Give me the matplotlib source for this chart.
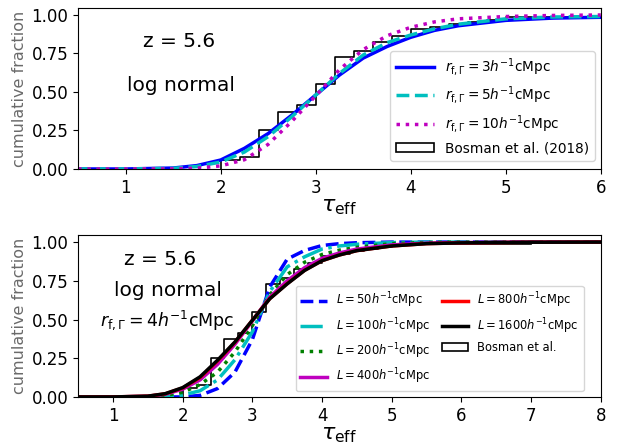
import matplotlib

matplotlib.use("Agg")
import matplotlib.pyplot as plt

# --- Bosman et al. (2018) cumulative histogram (bin edges / cumulative level per bin)
bosman_edges = [2.0, 2.2, 2.4, 2.6, 2.8, 3.0, 3.2, 3.4, 3.6, 3.8, 4.0, 4.2, 4.4,
                4.6, 4.8, 5.0, 5.5, 6.0, 6.5, 7.0]
bosman_cdf = [0.058, 0.076, 0.253, 0.372, 0.416, 0.55, 0.729, 0.768, 0.827,
              0.864, 0.907, 0.925, 0.944, 0.955, 0.966, 0.985, 0.985, 0.985, 0.985]

# --- top panel: model CDFs for different r_f,Gamma
tau_top = [0.5, 1.0, 1.5, 1.75, 2.0, 2.25, 2.5, 2.75, 3.0, 3.25, 3.5, 3.75,
           4.0, 4.25, 4.5, 5.0, 5.5, 6.0]
cdf_r3 = [0.0, 0.0, 0.006, 0.022, 0.058, 0.134, 0.23, 0.35, 0.48, 0.61, 0.72,
          0.795, 0.855, 0.90, 0.93, 0.965, 0.98, 0.985]
cdf_r5 = [0.0, 0.0, 0.004, 0.016, 0.045, 0.11, 0.21, 0.34, 0.48, 0.62, 0.74,
          0.82, 0.87, 0.91, 0.94, 0.975, 0.987, 0.99]
cdf_r10 = [0.0, 0.0, 0.001, 0.005, 0.02, 0.06, 0.16, 0.31, 0.475, 0.645, 0.775,
           0.865, 0.92, 0.955, 0.975, 0.99, 0.997, 1.0]

# --- bottom panel: model CDFs for different box sizes L
tau_bot = [0.5, 1.0, 1.5, 1.75, 2.0, 2.25, 2.5, 2.75, 3.0, 3.25, 3.5, 3.75,
           4.0, 4.25, 4.5, 5.0, 5.5, 6.0, 7.0, 8.0]
cdf_L50 = [0.0, 0.0, 0.0, 0.0, 0.0, 0.01, 0.054, 0.16, 0.37, 0.71, 0.89, 0.946,
           0.978, 0.99, 0.996, 1.0, 1.0, 1.0, 1.0, 1.0]
cdf_L100 = [0.0, 0.0, 0.0, 0.002, 0.012, 0.04, 0.11, 0.24, 0.42, 0.68, 0.84,
            0.905, 0.955, 0.975, 0.986, 0.997, 1.0, 1.0, 1.0, 1.0]
cdf_L200 = [0.0, 0.0, 0.002, 0.01, 0.03, 0.08, 0.16, 0.29, 0.46, 0.66, 0.79,
            0.87, 0.92, 0.948, 0.966, 0.99, 0.997, 1.0, 1.0, 1.0]
cdf_L400 = [0.0, 0.0, 0.004, 0.017, 0.05, 0.11, 0.21, 0.34, 0.49, 0.645, 0.75,
            0.835, 0.895, 0.93, 0.955, 0.982, 0.993, 0.997, 1.0, 1.0]
cdf_L800 = [0.0, 0.0, 0.005, 0.02, 0.058, 0.125, 0.232, 0.352, 0.495, 0.635,
            0.732, 0.818, 0.88, 0.917, 0.945, 0.975, 0.99, 0.995, 0.999, 1.0]
cdf_L1600 = [0.0, 0.0, 0.005, 0.021, 0.06, 0.13, 0.237, 0.355, 0.495, 0.634,
             0.73, 0.817, 0.88, 0.917, 0.945, 0.975, 0.99, 0.995, 0.999, 1.0]

GREY = "#6a6a6a"


def draw_bosman(ax, label):
    # step outline of the cumulative histogram, open at the right end
    xs = [bosman_edges[0]]
    ys = [0.0]
    for i, level in enumerate(bosman_cdf):
        xs += [bosman_edges[i], bosman_edges[i + 1]]
        ys += [level, level]
    ax.plot(xs, ys, color="k", lw=1.2, zorder=1)
    # legend proxy: open rectangle like a step histogram
    ax.fill_between([], [], [], facecolor="white", edgecolor="k", lw=1.2, label=label)


def style_axes(ax, xmax):
    ax.set_xlim(0.5, xmax)
    ax.set_ylim(0, 1.045)
    ax.set_yticks([0.0, 0.25, 0.5, 0.75, 1.0])
    ax.tick_params(labelsize=12)
    ax.set_xlabel(r"$\tau_{\rm eff}$", fontsize=16, labelpad=0)
    ax.set_ylabel("cumulative fraction", fontsize=11.5, color=GREY, labelpad=3)


fig = plt.figure(figsize=(6.2, 4.47), dpi=100)
ax1 = fig.add_axes([0.126, 0.622, 0.843, 0.360])
ax2 = fig.add_axes([0.126, 0.112, 0.843, 0.362])

# top panel
ax1.plot(tau_top, cdf_r3, color="b", lw=2.5, label=r"$r_{\rm f,\Gamma}=3h^{-1}{\rm cMpc}$")
ax1.plot(tau_top, cdf_r5, color="c", lw=2.5, ls="--", label=r"$r_{\rm f,\Gamma}=5h^{-1}{\rm cMpc}$")
ax1.plot(tau_top, cdf_r10, color="m", lw=2.5, ls=":", label=r"$r_{\rm f,\Gamma}=10h^{-1}{\rm cMpc}$")
draw_bosman(ax1, "Bosman et al. (2018)")
style_axes(ax1, 6)
ax1.set_xticks([1, 2, 3, 4, 5, 6])
ax1.text(1.56, 0.83, "z = 5.6", fontsize=14.5, ha="center", va="center")
ax1.text(1.58, 0.545, "log normal", fontsize=14.5, ha="center", va="center")
ax1.legend(loc="lower right", bbox_to_anchor=(0.988, 0.05), borderaxespad=0,
           fontsize=9.8, labelspacing=0.5, handlelength=2.8)

# bottom panel
ax2.plot(tau_bot, cdf_L50, color="b", lw=2.5, ls="--", label=r"$L=50h^{-1}{\rm cMpc}$")
ax2.plot(tau_bot, cdf_L100, color="c", lw=2.5, ls="-.", label=r"$L=100h^{-1}{\rm cMpc}$")
ax2.plot(tau_bot, cdf_L200, color="g", lw=2.5, ls=":", label=r"$L=200h^{-1}{\rm cMpc}$")
ax2.plot(tau_bot, cdf_L400, color="m", lw=2.5, label=r"$L=400h^{-1}{\rm cMpc}$")
ax2.plot(tau_bot, cdf_L800, color="r", lw=2.5, label=r"$L=800h^{-1}{\rm cMpc}$")
ax2.plot(tau_bot, cdf_L1600, color="k", lw=2.5, label=r"$L=1600h^{-1}{\rm cMpc}$")
draw_bosman(ax2, "Bosman et al.")
style_axes(ax2, 8)
ax2.set_xticks([1, 2, 3, 4, 5, 6, 7, 8])
ax2.text(1.68, 0.89, "z = 5.6", fontsize=14.5, ha="center", va="center")
ax2.text(1.79, 0.69, "log normal", fontsize=14.5, ha="center", va="center")
ax2.text(1.78, 0.495, r"$r_{\rm f,\Gamma}=4h^{-1}{\rm cMpc}$", fontsize=12.5,
         ha="center", va="center")
ax2.legend(loc="lower right", bbox_to_anchor=(0.967, 0.037), borderaxespad=0,
           ncol=2, fontsize=8.3, columnspacing=1.0, handlelength=2.3)

fig.savefig("out.png", dpi=100)
